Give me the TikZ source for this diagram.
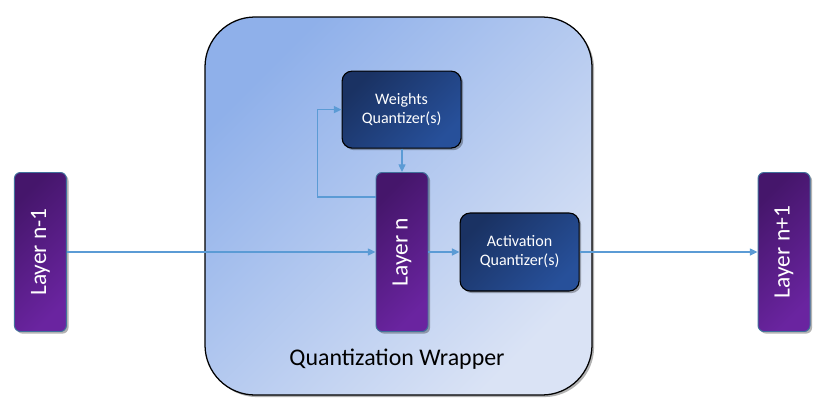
\documentclass[tikz,border=0pt]{standalone}
\usepackage{fontspec}
\setmainfont{Carlito}
\usepackage{xcolor}
\definecolor{wrapstart}{RGB}{143,176,234}
\definecolor{wrapend}{RGB}{218,227,245}
\definecolor{quantstart}{RGB}{26,50,99}
\definecolor{quantend}{RGB}{39,80,154}
\definecolor{layerstart}{RGB}{69,22,107}
\definecolor{layerend}{RGB}{106,36,160}
\definecolor{layerborder}{RGB}{65,113,156}
\definecolor{arrowblue}{RGB}{91,155,213}
\usepackage{tikz}
\usetikzlibrary{arrows.meta,positioning,shadows}

\begin{document}
\begin{tikzpicture}[
  softshadow/.style={drop shadow={shadow xshift=1.5pt, shadow yshift=-1.5pt, opacity=0.3, fill=black}},
  wrap/.style={rectangle, rounded corners=1.25cm, draw=black, line width=0.9pt,
    top color=wrapstart, bottom color=wrapend, shading angle=45, softshadow},
  quant/.style={rectangle, rounded corners=0.25cm, draw=black, line width=0.8pt,
    top color=quantstart, bottom color=quantend, shading angle=45, softshadow,
    minimum width=2.975cm, minimum height=1.925cm, align=center, text=white,
    font=\fontsize{11.4}{13.5}\selectfont},
  layer/.style={rectangle, rounded corners=0.15cm, draw=layerborder, line width=0.7pt,
    top color=layerstart, bottom color=layerend, shading angle=45, softshadow,
    minimum width=1.3cm, minimum height=3.975cm, text=white, inner sep=0pt,
    font=\fontsize{16.7}{20}\selectfont},
  arr/.style={-{Triangle[length=5.5pt,width=5pt]}, line width=1pt, color=arrowblue}
]
\useasboundingbox (0,0) rectangle (20.675,10.15);

%% Wrapper
\node[wrap, minimum width=9.675cm, minimum height=9.45cm] (wrapper) at (9.9625,5.0) {};
\node[font=\fontsize{17}{20}\selectfont] (wraplabel) at (9.925,1.175) {Quantization Wrapper};

%% Layers
\node[layer] (prev) at (1.01,3.85) {\rotatebox{90}{Layer n-1}};
\node[layer] (cur) at (10.05,3.85) {\rotatebox{90}{Layer n}};
\node[layer] (next) at (19.6,3.85) {\rotatebox{90}{Layer n+1}};

%% Quantizers
\node[quant] (wq) at (10.04,7.41) {Weights\\Quantizer(s)};
\node[quant, minimum height=1.95cm] (aq) at (12.99,3.85) {Activation\\Quantizer(s)};

%% Connectors
\draw[arr] (prev.east) -- (cur.west);
\draw[arr] (cur.east) -- (aq.west);
\draw[arr] (aq.east) -- (next.west);
\draw[arr] (wq.south -| cur.north) -- (cur.north);
\draw[arr] ([yshift=1.375cm]cur.west) -- ++(-1.45,0) |- (wq.west);

\end{tikzpicture}
\end{document}
